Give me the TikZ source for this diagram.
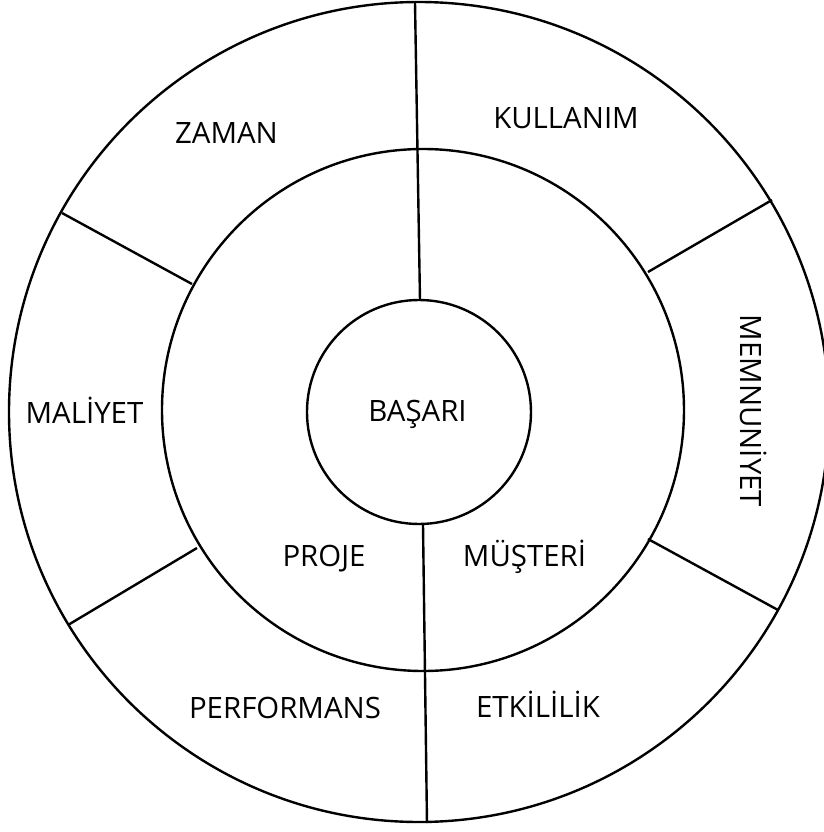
\documentclass[tikz,border=0pt]{standalone}
\usepackage{fontspec}
\setmainfont{Open Sans}

\begin{document}
\begin{tikzpicture}[x=0.5pt, y=0.5pt,
  ring/.style={draw, circle, line width=1.2pt, inner sep=0pt, outer sep=0pt},
  spoke/.style={-, line width=1.2pt},
  word/.style={font=\fontsize{14.7}{17}\selectfont, anchor=base, inner sep=0pt}
]
  \useasboundingbox (-419,-420) rectangle (405,412);

  \node[ring, minimum size=410pt] (outer)  at (0,0) {};
  \node[ring, minimum size=261pt] (middle) at (4,2) {};
  \node[ring, minimum size=112pt] (inner)  at (0,0) {};

  % ends of the spokes on the rings
  \coordinate (oN)  at (-4,410);   \coordinate (iN)  at (1,112);
  \coordinate (iS)  at (4,-112);   \coordinate (oS)  at (8,-411);
  \coordinate (oNW) at (-357,199); \coordinate (mNW) at (-227,128);
  \coordinate (oSW) at (-351,-213);\coordinate (mSW) at (-222,-136);
  \coordinate (oNE) at (353,212);  \coordinate (mNE) at (229,140);
  \coordinate (oSE) at (359,-198); \coordinate (mSE) at (229,-127);

  % vertical split
  \draw[spoke] (oN) -- (iN);
  \draw[spoke] (iS) -- (oS);
  % outer ring spokes
  \draw[spoke] (oNW) -- (mNW);
  \draw[spoke] (oSW) -- (mSW);
  \draw[spoke] (oNE) -- (mNE);
  \draw[spoke] (oSE) -- (mSE);

  \node[word] (zaman)    at (-192.5,268.5) {ZAMAN};
  \node[word] (kullanim) at (147,284)      {KULLANIM};
  \node[word] (maliyet)  at (-334.5,-11)   {MALİYET};
  \node[word] (basari)   at (-1.5,-9.7)    {BAŞARI};
  \node[word] (proje)    at (-95,-154)     {PROJE};
  \node[word] (musteri)  at (105.5,-154)   {MÜŞTERİ};
  \node[word] (perf)     at (-134,-306)    {PERFORMANS};
  \node[word] (etki)     at (119,-305)     {ETKİLİLİK};
  \node[word, rotate=-90] (memnun) at (322,1) {MEMNUNİYET};

\end{tikzpicture}
\end{document}
